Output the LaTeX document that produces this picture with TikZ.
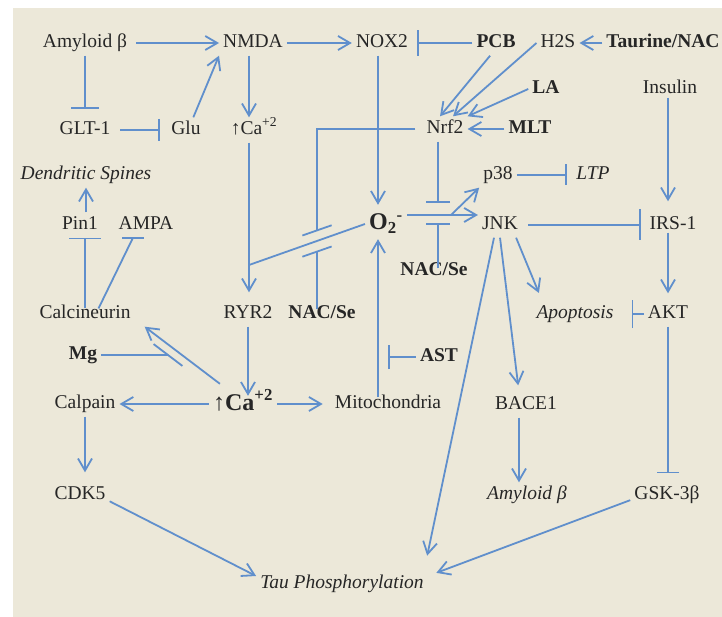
\documentclass[tikz,border=0pt]{standalone}
\usepackage{fontspec}
\setmainfont{Liberation Serif}
\usepackage{tikz}
\usetikzlibrary{ arrows.meta, % For open arrow tips and inhibition bars
               }
\definecolor{bgbeige}{RGB}{236,232,217}
\definecolor{linkblue}{RGB}{96,143,204}
\definecolor{labelgray}{RGB}{38,38,38}

\tikzset{
  act/.style={draw=linkblue, line width=1.8pt, -{Straight Barb[length=12pt,width=14pt]}},
  inh/.style={draw=linkblue, line width=1.8pt, -{Bar[width=#1]}},
  inh/.default={25pt},
  ln/.style={draw=linkblue, line width=1.8pt},
  drug/.style={font=\fontsize{19.5pt}{23pt}\selectfont\bfseries},
  eff/.style={font=\fontsize{19.5pt}{23pt}\selectfont\itshape},
  big/.style={font=\fontsize{24pt}{28pt}\selectfont\bfseries, text height=17pt, text depth=5pt},
}

\begin{document}
\begin{tikzpicture}[x=1pt, y=-1pt,
  every node/.style={font=\fontsize{19.5pt}{23pt}\selectfont, text=labelgray,
                     inner sep=4pt, text height=13pt, text depth=4pt}] % pixel grid
  \useasboundingbox (0,0) rectangle (722,617);
  \fill[bgbeige] (13,8) rectangle (722,617);

  \node (amy) at (85,43) {Amyloid β};
  \node (nmda) at (253,43) {NMDA};
  \node (nox2) at (382,43) {NOX2};
  \node[drug] (pcb) at (496,43) {PCB};
  \node (h2s) at (558,43) {H2S};
  \node[drug] (taur) at (663,43) {Taurine/NAC};

  \node[drug] (la) at (546,89) {LA};
  \node (insulin) at (670,89) {Insulin};

  \node (glt) at (85,130) {GLT-1};
  \node (glu) at (186,130) {Glu};
  \node (ca1) at (254,130) {↑Ca\textsuperscript{+2}};
  \node (nrf2) at (445,129) {Nrf2};
  \node[drug] (mlt) at (530,129) {MLT};

  \node[eff] (dend) at (86,175) {Dendritic Spines};
  \node (p38) at (498,175) {p38};
  \node[eff] (ltp) at (593,175) {LTP};

  \node (pin1) at (80,225) {Pin1};
  \node (ampa) at (146,225) {AMPA};
  \node[big] (o2) at (386,224) {O\textsubscript{2}\textsuperscript{-}};
  \node (jnk) at (500,225) {JNK};
  \node (irs1) at (673,225) {IRS-1};
  \node[drug] (nacse2) at (434,271) {NAC/Se};

  \node (calcin) at (85,314) {Calcineurin};
  \node (ryr2) at (248,314) {RYR2};
  \node[drug] (nacse1) at (322,314) {NAC/Se};
  \node[eff] (apop) at (575,314) {Apoptosis};
  \node (akt) at (668,314) {AKT};

  \node[drug] (mg) at (83,355) {Mg};
  \node[drug] (ast) at (439,357) {AST};

  \node (calpain) at (85,404) {Calpain};
  \node[big] (ca2) at (243,404) {↑Ca\textsuperscript{+2}};
  \node (mito) at (388,404) {Mitochondria};
  \node (bace1) at (526,405) {BACE1};

  \node (cdk5) at (80,495) {CDK5};
  \node[eff] (amyb2) at (527,495) {Amyloid β};
  \node (gsk) at (667,495) {GSK-3β};

  \node[eff] (tau) at (342,584) {Tau Phosphorylation};

  \coordinate (j1) at (249,265);
  \coordinate (k1) at (317,129);
  \coordinate (b1) at (317,230.4);
  \coordinate (b2) at (317,251.6);
  \coordinate (b3) at (438,203);
  \coordinate (b4) at (438,223);
  \coordinate (br) at (451,215);
  \coordinate (astb) at (388,357);
  \coordinate (mgb) at (168,355);
  \coordinate (o2r) at ([yshift=9pt]o2.east);

  % top row
  \draw[act, shorten <=5pt] (amy) -- (nmda);
  \draw[act] (nmda) -- (nox2);
  \draw[inh=26pt, shorten >=5pt] (pcb) -- (nox2);
  \draw[act] (taur) -- (h2s);
  \draw[act] (pcb.-115) -- ([xshift=-5pt]nrf2.north);
  \draw[act] (h2s.west) -- ([xshift=8pt]nrf2.north);
  \draw[act] (la.west) -- (nrf2.north east);
  \draw[act] (mlt) -- (nrf2);

  \draw[inh=28pt, shorten >=8pt] (amy) -- (glt);
  \draw[inh=22pt, shorten <=6pt, shorten >=7pt] (glt) -- (glu);
  \draw[act] (glu.60) -- (nmda.south west);
  \draw[act] (nmda.south -| j1) -- (ca1.north -| j1);
  \draw[act, shorten >=9pt] (ca1.south -| j1) -- (j1) -- (ryr2.north -| j1);

  % superoxide
  \draw[act, shorten >=4pt] (nox2.south -| o2.north) ++(-8,0) -- ([xshift=-8pt]o2.north);
  \draw[ln] (o2.west) -- (j1);
  \draw[ln, shorten <=7pt] (nrf2.west) -- (k1) -- (b1);
  \draw[ln] ([shift={(-14.6,5.1)}]b1) -- ([shift={(14.6,-5.1)}]b1);
  \draw[ln, shorten <=-8pt] (nacse1.north -| b2) -- (b2);
  \draw[ln] ([shift={(-14.6,5.1)}]b2) -- ([shift={(14.6,-5.1)}]b2);
  \draw[act] (o2r) -- (o2r -| jnk.west);
  \draw[act] (br) -- (p38.south west);
  \draw[inh=24pt] (nrf2.south -| b3) -- (b3);
  \draw[inh=24pt, shorten <=-10pt] (nacse2.north -| b4) -- (b4);
  \draw[act, shorten <=-6pt] ([xshift=-10pt]mito.north) -- ([xshift=-8pt]o2.south);
  \draw[inh=24pt] (ast) -- (astb);

  % right side
  \draw[inh=21pt, shorten >=5pt] (p38) -- (ltp);
  \draw[inh=31pt, shorten <=6pt, shorten >=5pt] (jnk) -- (irs1);
  \draw[act, shorten <=-4pt, shorten >=11pt] (insulin.south -| akt) -- (irs1.north -| akt);
  \draw[act, shorten <=-5pt, shorten >=8pt] (irs1.south -| akt) -- (akt.north);
  \draw[inh=28pt, shorten >=14pt] (akt) -- (apop);
  \draw[inh=22pt, shorten >=9pt] (akt.south) -- (gsk.north -| akt);
  \draw[act, shorten >=9pt] ([xshift=-6pt]jnk.south east) -- ([xshift=10pt]apop.north west);
  \draw[act, shorten >=7pt] (jnk.south) -- ([xshift=-7pt]bace1.north);
  \draw[act, shorten >=16pt] ([xshift=-6pt]jnk.south) -- ([xshift=-4pt]tau.north east);
  \draw[act] ([xshift=-7pt]bace1.south) -- ([xshift=-8pt]amyb2.north);
  \draw[act, shorten >=9pt] (gsk.-172) -- ([yshift=8pt]tau.east);

  % calcium side
  \draw[act, shorten >=-7pt] (ryr2.south) -- (ryr2.south |- ca2.north);
  \draw[act] (ca2.west) -- (calpain.east);
  \draw[act, shorten >=8pt] (ca2.east) -- (mito.west);
  \draw[act] ([xshift=11pt,yshift=5pt]ca2.north west) -- ([xshift=10pt]calcin.south east);
  \draw[ln] (mg) -- (mgb);
  \draw[ln] ([shift={(-14.4,-10.9)}]mgb) -- ([shift={(14.4,10.9)}]mgb);
  \draw[act, shorten >=10pt] (calpain.south) -- (calpain.south |- cdk5.north);
  \draw[act] (cdk5.-12) -- ([yshift=8pt]tau.west);

  \draw[inh=32pt, shorten <=-7pt] (calcin.north) -- (calcin.north |- pin1.south);
  \draw[ln, shorten <=-8pt] ([xshift=17pt]calcin.north) -- ([xshift=-13pt]ampa.south);
  \draw[ln] ([xshift=-24pt]ampa.south) -- ([xshift=-2pt]ampa.south);
  \draw[act] (pin1.north -| dend) -- (dend.south);

\end{tikzpicture}
\end{document}
